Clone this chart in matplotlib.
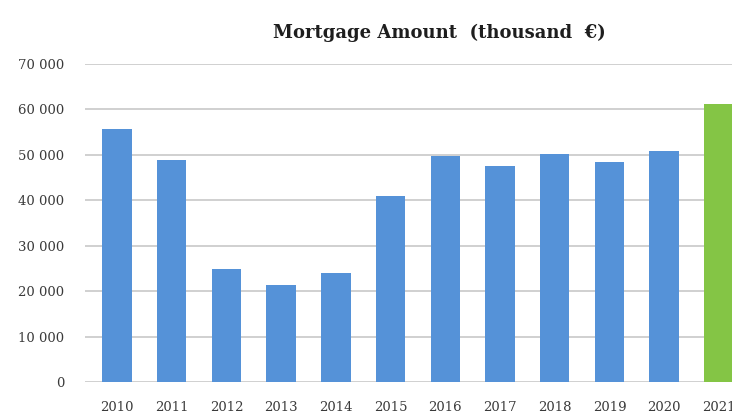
import matplotlib
matplotlib.use("Agg")
import matplotlib.pyplot as plt
from matplotlib.ticker import FuncFormatter

years = ["2010", "2011", "2012", "2013", "2014", "2015", "2016",
         "2017", "2018", "2019", "2020", "2021"]
amounts = [55800, 48800, 24800, 21300, 24000, 40900, 49700,
           47500, 50100, 48400, 50800, 61100]
colors = ["#5592d8"] * 11 + ["#84c545"]

plt.rcParams["font.family"] = ["DejaVu Serif"]

fig = plt.figure(figsize=(7.32, 4.15), dpi=100)
ax = fig.add_axes([85 / 732, 33 / 415, 1 - 85 / 732, (382 - 64) / 415])

x = list(range(len(years)))
ax.bar(x, amounts, width=0.54, color=colors, zorder=3)

ax.set_ylim(0, 70000)
ax.set_xlim(-0.585, 11.24)
ax.set_yticks(range(0, 70001, 10000))
ax.yaxis.set_major_formatter(FuncFormatter(
    lambda v, _: "0" if v == 0 else f"{int(v):,}".replace(",", " ")))
ax.set_xticks(x)
ax.set_xticklabels(years)

ax.grid(axis="y", color="#c8c8c8", linewidth=1.2, zorder=0)
for s in ax.spines.values():
    s.set_visible(False)
ax.tick_params(axis="both", length=0, labelsize=9.5, colors="#3a3a3a")
ax.tick_params(axis="y", pad=15)
ax.tick_params(axis="x", pad=14)

fig.text(0.60, 0.92, "Mortgage Amount  (thousand  €)", ha="center",
         va="center", fontsize=13, fontweight="bold", color="#1e1e1e")

fig.savefig("out.png", dpi=100, facecolor="white")
